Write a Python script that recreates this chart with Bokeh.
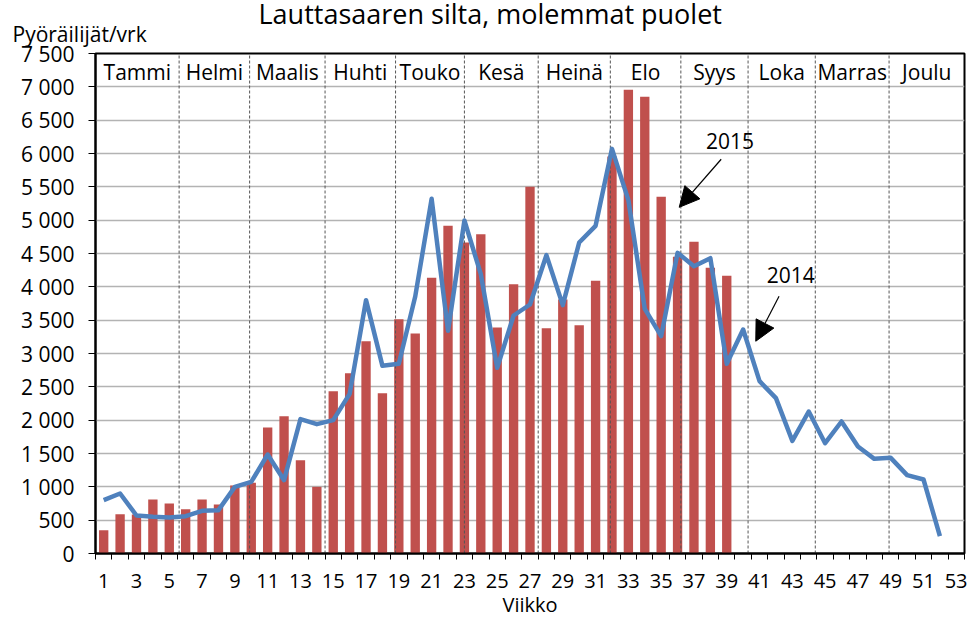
from bokeh.plotting import figure
from bokeh.models import FixedTicker, Label, Arrow, NormalHead, Title
from bokeh.core.properties import value
from bokeh.embed import file_html
from bokeh.resources import INLINE

FONT = "Open Sans"

title = "Lauttasaaren silta, molemmat puolet"
y_title = "Pyöräilijät/vrk"
x_title = "Viikko"

months = ["Tammi", "Helmi", "Maalis", "Huhti", "Touko", "Kesä",
          "Heinä", "Elo", "Syys", "Loka", "Marras", "Joulu"]
month_bounds = [0.5, 5.6, 9.9, 14.5, 18.8, 23.0, 27.5, 31.9, 36.2, 40.3, 44.4, 48.9, 53.5]

weeks_2015 = list(range(1, 40))
riders_2015 = [350, 590, 585, 810, 750, 665, 810, 735, 1020, 1060,
               1890, 2060, 1400, 1000, 2435, 2705, 3185, 2405, 3515, 3300,
               4135, 4915, 4665, 4790, 3390, 4040, 5500, 3380, 3810, 3425,
               4090, 5955, 6955, 6850, 5350, 4450, 4675, 4285, 4165]

weeks_2014 = list(range(1, 53))
riders_2014 = [800, 900, 570, 550, 540, 560, 640, 650, 1000, 1075,
               1485, 1100, 2015, 1940, 2000, 2395, 3800, 2815, 2845, 3855,
               5320, 3340, 4995, 4190, 2785, 3570, 3735, 4475, 3725, 4665,
               4915, 6070, 5300, 3670, 3260, 4510, 4310, 4430, 2845, 3360,
               2585, 2330, 1690, 2130, 1655, 1980, 1605, 1420, 1435, 1175,
               1110, 260]

y_ticks = list(range(0, 7501, 500))
y_tick_labels = ["0", "500", "1 000", "1 500", "2 000", "2 500", "3 000", "3 500",
                 "4 000", "4 500", "5 000", "5 500", "6 000", "6 500", "7 000", "7 500"]
x_ticks = list(range(1, 54, 2))
week_edges = [w + 0.5 for w in range(0, 54)]

p = figure(width=967, height=621, x_range=(0.5, 53.5), y_range=(0, 7500),
           output_backend="svg", toolbar_location=None,
           min_border_left=95, min_border_right=3, min_border_top=53, min_border_bottom=68)

p.outline_line_color = "black"
p.outline_line_width = 2
p.xgrid.visible = False
p.ygrid.grid_line_color = "#B3B3B3"
p.ygrid.grid_line_width = 1.5

# x axis
xa = p.xaxis[0]
xa.ticker = FixedTicker(ticks=x_ticks, minor_ticks=week_edges)
xa.major_tick_out = 0
xa.major_tick_in = 0
xa.minor_tick_out = 6
xa.minor_tick_in = 0
xa.minor_tick_line_color = "black"
xa.axis_line_color = "black"
xa.axis_line_width = 2
xa.major_label_text_font = FONT
xa.major_label_text_font_size = "20px"
xa.major_label_text_color = "black"
xa.major_label_standoff = 14
xa.axis_label = x_title
xa.axis_label_text_font = FONT
xa.axis_label_text_font_size = "20px"
xa.axis_label_text_font_style = "normal"
xa.axis_label_text_color = "black"
xa.axis_label_standoff = 0

# y axis
ya = p.yaxis[0]
ya.ticker = FixedTicker(ticks=y_ticks)
ya.major_label_overrides = {t: l for t, l in zip(y_ticks, y_tick_labels)}
ya.major_tick_out = 7
ya.major_tick_in = 0
ya.minor_tick_out = 0
ya.minor_tick_in = 0
ya.major_tick_line_color = "black"
ya.axis_line_color = "black"
ya.axis_line_width = 2
ya.major_label_text_font = FONT
ya.major_label_text_font_size = "21px"
ya.major_label_text_color = "black"
ya.major_label_standoff = 14

# data
p.vbar(x=weeks_2015, top=riders_2015, width=0.57, fill_color="#C0504D", line_color=None)

seps = month_bounds[1:-1]
p.segment(x0=seps, y0=[0] * len(seps), x1=seps, y1=[7500] * len(seps),
          line_color="#555555", line_width=1, line_dash="3 2")

p.line(weeks_2014, riders_2014, line_color="#4F81BD", line_width=4.5, line_join="round")

mids = [(a + b) / 2 for a, b in zip(month_bounds[:-1], month_bounds[1:])]
p.text(x=mids, y=[7230] * len(months), text=months, text_align="center",
       text_baseline="middle", text_font=value(FONT), text_font_size="21px",
       text_color="black")

# annotations
p.add_layout(Arrow(end=NormalHead(size=20, fill_color="black", line_color="black"),
                   x_start=38.66, y_start=5914, x_end=36.1, y_end=5193,
                   line_color="black", line_width=1.2))
p.add_layout(Arrow(end=NormalHead(size=20, fill_color="black", line_color="black"),
                   x_start=42.19, y_start=3858, x_end=40.77, y_end=3184,
                   line_color="black", line_width=1.2))
p.add_layout(Label(x=39.2, y=6190, text="2015", text_align="center", text_baseline="middle",
                   text_font=FONT, text_font_size="21px", text_color="black"))
p.add_layout(Label(x=42.9, y=4171, text="2014", text_align="center", text_baseline="middle",
                   text_font=FONT, text_font_size="21px", text_color="black"))

p.add_layout(Title(text=y_title, align="left", offset=-83, standoff=8, vertical_align="top",
                   text_font=FONT, text_font_size="21px", text_font_style="normal",
                   text_color="black"), "above")
p.add_layout(Title(text=title, align="left", offset=163, standoff=-38.5, vertical_align="top",
                   text_font=FONT, text_font_size="27px", text_font_style="normal",
                   text_color="black"), "above")

open("out.html", "w").write(file_html(p, INLINE))
